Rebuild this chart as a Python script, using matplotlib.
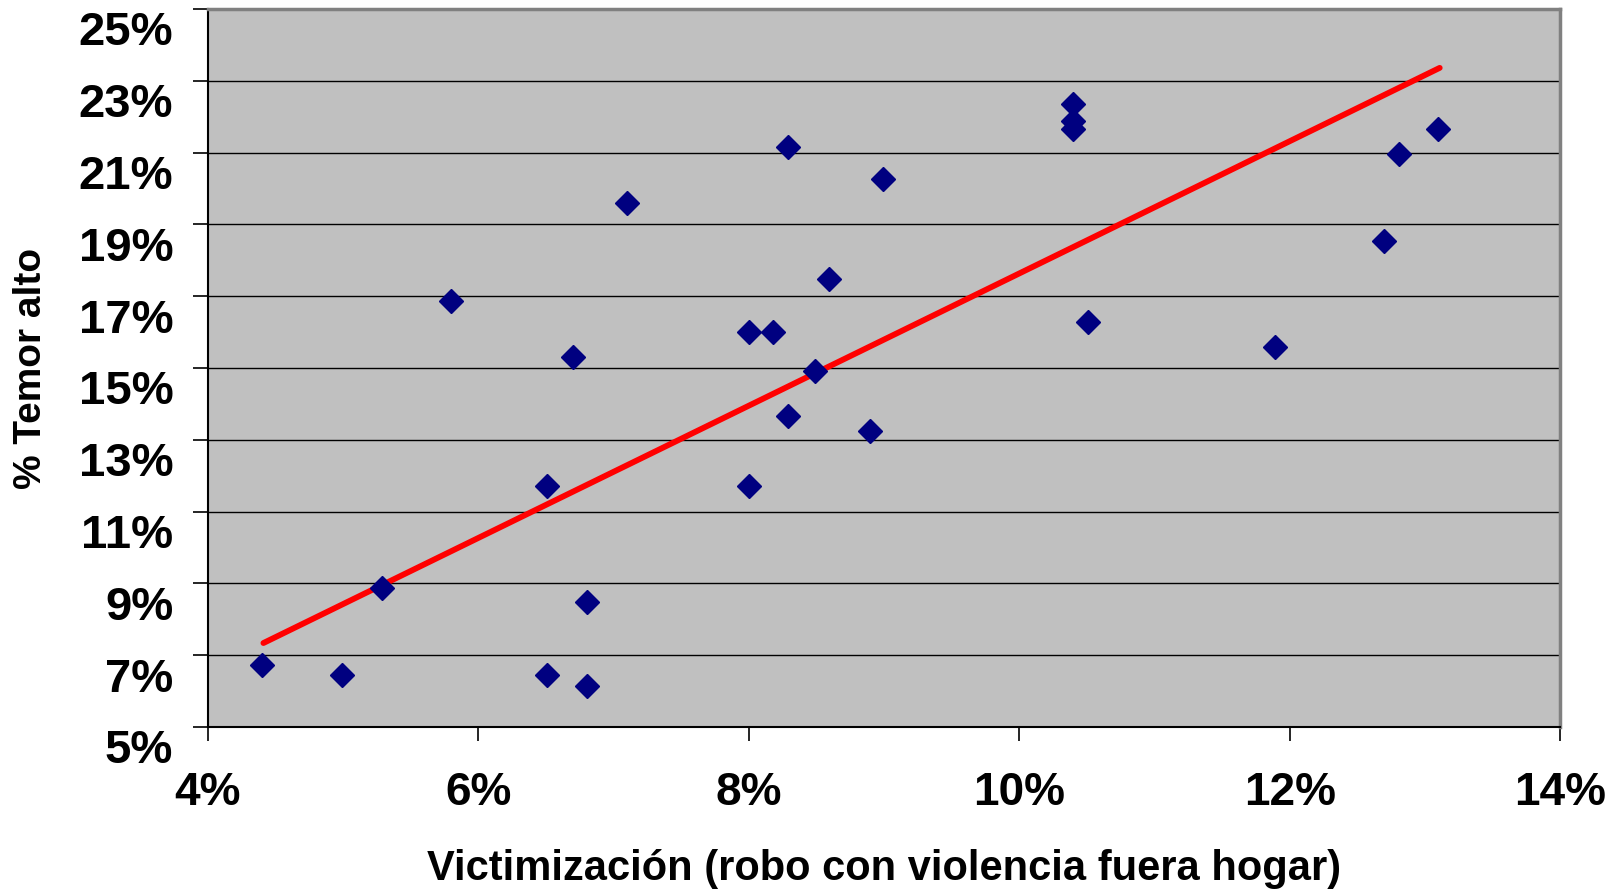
import matplotlib
matplotlib.use("Agg")
import matplotlib.pyplot as plt
import matplotlib.transforms as mtransforms
from matplotlib.ticker import FuncFormatter

# victimización (%) vs temor alto (%)
victimizacion = [4.40, 4.99, 5.29, 5.80, 6.51, 6.51, 6.70, 6.80, 6.80, 7.10,
                 8.00, 8.18, 8.00, 8.29, 8.29, 8.49, 8.59, 8.90, 8.99,
                 10.40, 10.40, 10.40, 10.51, 11.89, 12.70, 12.81, 13.10]
temor_alto = [6.73, 6.44, 8.87, 16.86, 6.44, 11.70, 15.30, 8.49, 6.15, 19.60,
              16.00, 16.00, 11.70, 21.16, 13.66, 14.93, 17.47, 13.25, 20.27,
              22.35, 21.88, 21.65, 16.28, 15.59, 18.54, 20.96, 21.65]

# tendencia (extremos)
trend_x = [4.41, 13.11]
trend_y = [7.34, 23.36]

x_ticks = [4, 6, 8, 10, 12, 14]
y_ticks = [5, 7, 9, 11, 13, 15, 17, 19, 21, 23, 25]

plt.rcParams["font.family"] = ["Liberation Sans", "DejaVu Sans"]
plt.rcParams["font.weight"] = "bold"

fig = plt.figure(figsize=(16.21, 8.90), dpi=100)
ax = fig.add_axes([0.1283, 0.1831, 0.8341, 0.8068])
ax.set_facecolor("#C0C0C0")

ax.plot(trend_x, trend_y, color="#FF0000", lw=4.2, solid_capstyle="round", zorder=3)
ax.plot(victimizacion, temor_alto, ls="none", marker="D", ms=12.5,
        color="#000080", mec="#000080", zorder=4)

ax.set_xlim(4, 14)
ax.set_ylim(5, 25)
ax.set_xticks(x_ticks)
ax.set_yticks(y_ticks)
pct = FuncFormatter(lambda v, _: f"{v:.0f}%")
ax.xaxis.set_major_formatter(pct)
ax.yaxis.set_major_formatter(pct)
ax.yaxis.grid(True, color="black", lw=1.0)
ax.set_axisbelow(True)

ax.tick_params(axis="x", direction="out", length=10, width=1.2, pad=22,
               labelsize=33)
ax.tick_params(axis="y", direction="out", length=11, width=1.2, pad=14,
               labelsize=34)
# y labels sit a little below their ticks in the original
shift = mtransforms.ScaledTranslation(0, -14 / 72, fig.dpi_scale_trans)
for lab in ax.get_yticklabels():
    lab.set_transform(lab.get_transform() + shift)

for s in ("left", "bottom"):
    ax.spines[s].set_color("black")
    ax.spines[s].set_linewidth(1.5)
for s in ("top", "right"):
    ax.spines[s].set_color("#808080")
    ax.spines[s].set_linewidth(2.5)

ax.set_xlabel("Victimización (robo con violencia fuera hogar)", fontsize=30,
              fontweight="bold", labelpad=24)
ax.set_ylabel("% Temor alto", fontsize=28, fontweight="bold", labelpad=21)

fig.savefig("out.png", dpi=100)
